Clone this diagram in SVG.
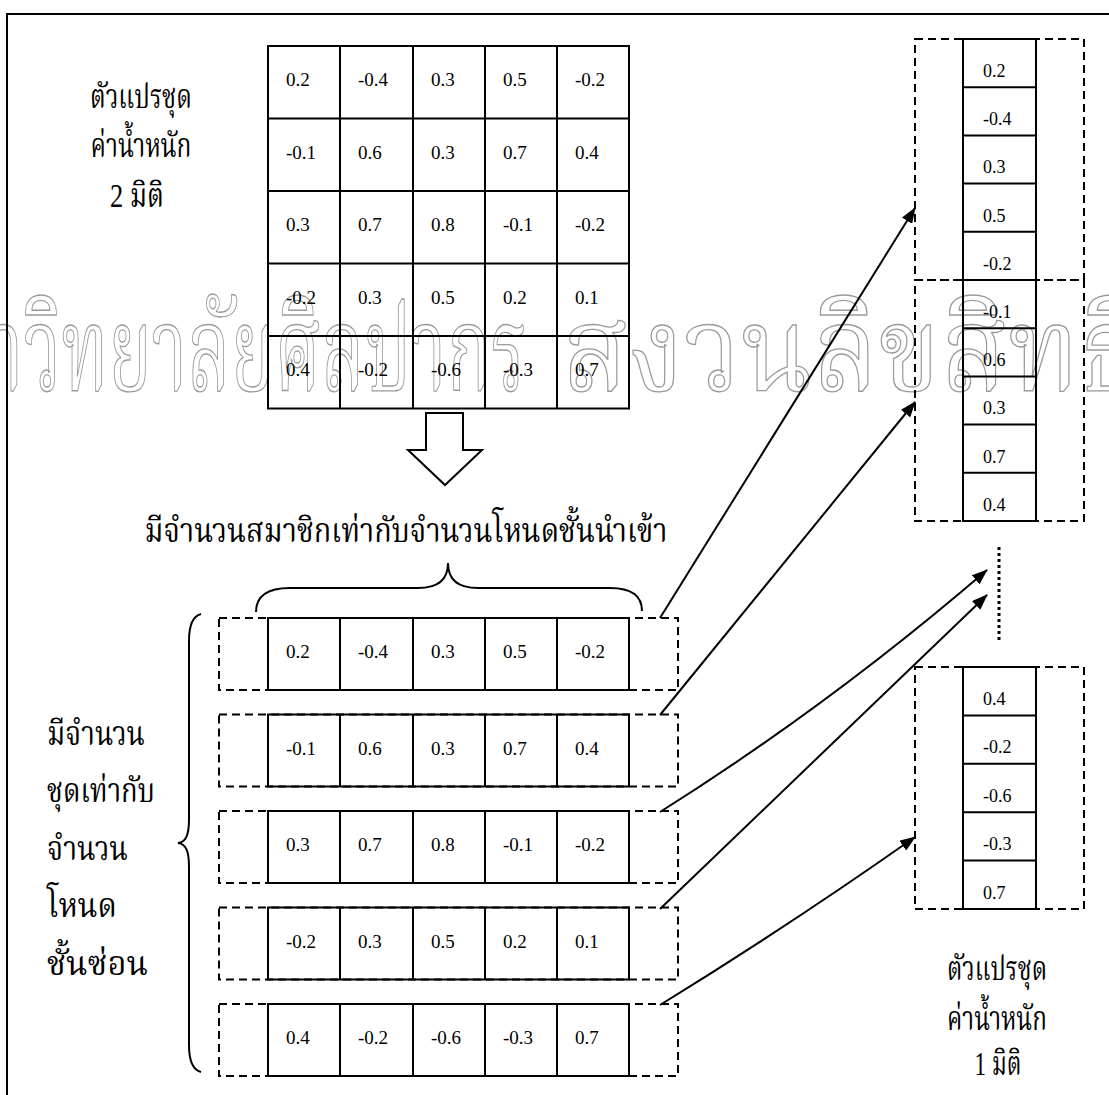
<svg xmlns="http://www.w3.org/2000/svg" width="1109" height="1095" viewBox="0 0 1109 1095">
<style>
.bg{fill:#fff}
.frame{fill:none;stroke:#000;stroke-width:2}
.cell{fill:none;stroke:#000;stroke-width:2}
.dash{fill:none;stroke:#000;stroke-width:2;stroke-dasharray:8 5}
.num{font-family:"Liberation Serif","Times New Roman",serif;font-size:19px;fill:#000}
.rnum{font-family:"Liberation Serif","Times New Roman",serif;font-size:18px;fill:#000}
.th{font-family:"Liberation Serif","Noto Serif Thai","Noto Sans Thai","DejaVu Sans",serif;font-size:34px;fill:#000}
.wm{font-family:"Liberation Serif","Noto Serif Thai","Noto Sans Thai","DejaVu Sans",serif;font-size:118px;fill:none;stroke:#9a9a9a;stroke-width:1.3}
.conn{fill:none;stroke:#000;stroke-width:2;marker-end:url(#ah)}
.brace{fill:none;stroke:#000;stroke-width:2}
</style>
<defs>
<marker id="ah" viewBox="0 0 16 12" refX="15" refY="6" markerWidth="16" markerHeight="12" markerUnits="userSpaceOnUse" orient="auto">
<path d="M0,0 L16,6 L0,12 Z" fill="#000"/>
</marker>
</defs>
<rect class="bg" x="0" y="0" width="1109" height="1095"/>
<g id="watermark">
<text class="wm" x="-105" y="390" textLength="632" lengthAdjust="spacingAndGlyphs">มหาวิทยาลัยศิลปากร</text>
<text class="wm" x="562" y="390" textLength="580" lengthAdjust="spacingAndGlyphs">สงวนลิขสิทธิ์</text>
</g>
<path class="frame" d="M7,1095 V14 H1109"/>

<g id="label-2d">
<text class="th" x="141" y="108" text-anchor="middle" textLength="102" lengthAdjust="spacingAndGlyphs">ตัวแปรชุด</text>
<text class="th" x="141" y="157" text-anchor="middle" textLength="101" lengthAdjust="spacingAndGlyphs">ค่าน้ำหนัก</text>
<text class="th" x="137" y="207" text-anchor="middle" textLength="54" lengthAdjust="spacingAndGlyphs">2 มิติ</text>
</g>

<g id="matrix-2d">
<rect class="cell" x="268" y="46" width="361" height="362.5"/>
<path class="cell" d="M340,46 V408.5 M413,46 V408.5 M485,46 V408.5 M557,46 V408.5 M268,118.5 H629 M268,191 H629 M268,263.5 H629 M268,336 H629"/>
<g class="num">
<text x="286" y="86">0.2</text><text x="358" y="86">-0.4</text><text x="431" y="86">0.3</text><text x="503" y="86">0.5</text><text x="575" y="86">-0.2</text>
<text x="286" y="158.5">-0.1</text><text x="358" y="158.5">0.6</text><text x="431" y="158.5">0.3</text><text x="503" y="158.5">0.7</text><text x="575" y="158.5">0.4</text>
<text x="286" y="231">0.3</text><text x="358" y="231">0.7</text><text x="431" y="231">0.8</text><text x="503" y="231">-0.1</text><text x="575" y="231">-0.2</text>
<text x="286" y="303.5">-0.2</text><text x="358" y="303.5">0.3</text><text x="431" y="303.5">0.5</text><text x="503" y="303.5">0.2</text><text x="575" y="303.5">0.1</text>
<text x="286" y="376">0.4</text><text x="358" y="376">-0.2</text><text x="431" y="376">-0.6</text><text x="503" y="376">-0.3</text><text x="575" y="376">0.7</text>
</g>
</g>

<g id="convert-arrow">
<path d="M426,413 H463 V450 H482 L445,485 L408,450 H426 Z" fill="#fff" stroke="#000" stroke-width="2" stroke-linejoin="miter"/>
</g>

<g id="label-members">
<text class="th" x="406" y="542" text-anchor="middle" textLength="523" lengthAdjust="spacingAndGlyphs">มีจำนวนสมาชิกเท่ากับจำนวนโหนดชั้นนำเข้า</text>
<path class="brace" d="M256,612 C256,596 268,588 290,588 L418,588 C438,588 448,580 448,563 C448,580 458,588 478,588 L610,588 C632,588 642,596 642,611"/>
</g>

<g id="label-sets">
<path class="brace" d="M201,614 C193,616 189,625 189,641 L189,819 C189,835 186,842 178,843 C186,844 189,851 189,867 L189,1045 C189,1061 193,1070 201,1072"/>
<text class="th" x="47" y="745" textLength="98" lengthAdjust="spacingAndGlyphs">มีจำนวน</text>
<text class="th" x="47" y="802" textLength="108" lengthAdjust="spacingAndGlyphs">ชุดเท่ากับ</text>
<text class="th" x="47" y="860" textLength="81" lengthAdjust="spacingAndGlyphs">จำนวน</text>
<text class="th" x="47" y="917" textLength="70" lengthAdjust="spacingAndGlyphs">โหนด</text>
<text class="th" x="47" y="975" textLength="101" lengthAdjust="spacingAndGlyphs">ชั้นซ่อน</text>
</g>

<g id="row-1">
<rect class="dash" x="219" y="618" width="459" height="72"/>
<rect class="cell" x="268" y="618" width="361" height="72"/>
<path class="cell" d="M340,618 V690 M413,618 V690 M485,618 V690 M557,618 V690"/>
<g class="num"><text x="286" y="658">0.2</text><text x="358" y="658">-0.4</text><text x="431" y="658">0.3</text><text x="503" y="658">0.5</text><text x="575" y="658">-0.2</text></g>
</g>
<g id="row-2">
<rect class="dash" x="219" y="714.5" width="459" height="72"/>
<rect class="cell" x="268" y="714.5" width="361" height="72"/>
<path class="cell" d="M340,714.5 V786.5 M413,714.5 V786.5 M485,714.5 V786.5 M557,714.5 V786.5"/>
<g class="num"><text x="286" y="754.5">-0.1</text><text x="358" y="754.5">0.6</text><text x="431" y="754.5">0.3</text><text x="503" y="754.5">0.7</text><text x="575" y="754.5">0.4</text></g>
</g>
<g id="row-3">
<rect class="dash" x="219" y="811" width="459" height="72"/>
<rect class="cell" x="268" y="811" width="361" height="72"/>
<path class="cell" d="M340,811 V883 M413,811 V883 M485,811 V883 M557,811 V883"/>
<g class="num"><text x="286" y="851">0.3</text><text x="358" y="851">0.7</text><text x="431" y="851">0.8</text><text x="503" y="851">-0.1</text><text x="575" y="851">-0.2</text></g>
</g>
<g id="row-4">
<rect class="dash" x="219" y="907.5" width="459" height="72"/>
<rect class="cell" x="268" y="907.5" width="361" height="72"/>
<path class="cell" d="M340,907.5 V979.5 M413,907.5 V979.5 M485,907.5 V979.5 M557,907.5 V979.5"/>
<g class="num"><text x="286" y="947.5">-0.2</text><text x="358" y="947.5">0.3</text><text x="431" y="947.5">0.5</text><text x="503" y="947.5">0.2</text><text x="575" y="947.5">0.1</text></g>
</g>
<g id="row-5">
<rect class="dash" x="219" y="1004" width="459" height="72"/>
<rect class="cell" x="268" y="1004" width="361" height="72"/>
<path class="cell" d="M340,1004 V1076 M413,1004 V1076 M485,1004 V1076 M557,1004 V1076"/>
<g class="num"><text x="286" y="1044">0.4</text><text x="358" y="1044">-0.2</text><text x="431" y="1044">-0.6</text><text x="503" y="1044">-0.3</text><text x="575" y="1044">0.7</text></g>
</g>

<g id="vector-1">
<rect class="dash" x="915" y="39" width="169" height="241"/>
<rect class="cell" x="963" y="39" width="73" height="241"/>
<path class="cell" d="M963,87.2 H1036 M963,135.4 H1036 M963,183.6 H1036 M963,231.8 H1036"/>
<g class="rnum"><text x="983" y="77">0.2</text><text x="983" y="125.2">-0.4</text><text x="983" y="173.4">0.3</text><text x="983" y="221.6">0.5</text><text x="983" y="269.8">-0.2</text></g>
</g>
<g id="vector-2">
<rect class="dash" x="915" y="280" width="169" height="241"/>
<rect class="cell" x="963" y="280" width="73" height="241"/>
<path class="cell" d="M963,328.2 H1036 M963,376.4 H1036 M963,424.6 H1036 M963,472.8 H1036"/>
<g class="rnum"><text x="983" y="318">-0.1</text><text x="983" y="366.2">0.6</text><text x="983" y="414.4">0.3</text><text x="983" y="462.6">0.7</text><text x="983" y="510.8">0.4</text></g>
</g>
<g id="ellipsis">
<line x1="999" y1="547" x2="999" y2="642" stroke="#000" stroke-width="3" stroke-dasharray="3 3"/>
</g>
<g id="vector-n">
<rect class="dash" x="915" y="667" width="169" height="242"/>
<rect class="cell" x="963" y="667" width="73" height="242"/>
<path class="cell" d="M963,715.4 H1036 M963,763.8 H1036 M963,812.2 H1036 M963,860.6 H1036"/>
<g class="rnum"><text x="983" y="705">0.4</text><text x="983" y="753.4">-0.2</text><text x="983" y="801.8">-0.6</text><text x="983" y="850.2">-0.3</text><text x="983" y="898.6">0.7</text></g>
</g>
<g id="label-1d">
<text class="th" x="997" y="980" text-anchor="middle" textLength="100" lengthAdjust="spacingAndGlyphs">ตัวแปรชุด</text>
<text class="th" x="997" y="1030" text-anchor="middle" textLength="100" lengthAdjust="spacingAndGlyphs">ค่าน้ำหนัก</text>
<text class="th" x="998" y="1075" text-anchor="middle" textLength="47" lengthAdjust="spacingAndGlyphs">1 มิติ</text>
</g>

<g id="connectors">
<path class="conn" d="M660,618 L915,208"/>
<path class="conn" d="M660,715 L915,402"/>
<path class="conn" d="M660,812 Q830,705 987,570"/>
<path class="conn" d="M660,909 L987,595"/>
<path class="conn" d="M660,1005 Q790,925 915,837"/>
</g>
</svg>
